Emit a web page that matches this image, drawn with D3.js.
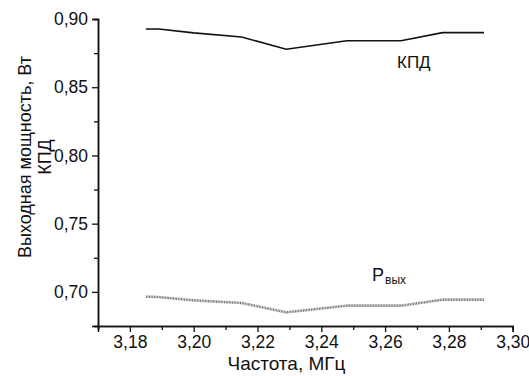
<!DOCTYPE html>
<html>
<head>
<meta charset="utf-8">
<script src="https://cdn.jsdelivr.net/npm/d3@7"></script>
<style>
  body { margin: 0; background: #fff; }
  text { font-family: "Liberation Sans", Arial, sans-serif; fill: #111; }
</style>
</head>
<body>
<div id="chart"></div>
<script>
// frequency, MHz
const freq = [3.185, 3.189, 3.2, 3.215, 3.229, 3.248, 3.265, 3.278, 3.291];
// efficiency (КПД)
const kpd = [0.8927, 0.8927, 0.8898, 0.8868, 0.8778, 0.8841, 0.8841, 0.8900, 0.8900];
// output power, W
const pout = [0.6965, 0.6962, 0.6938, 0.6919, 0.6850, 0.6899, 0.6899, 0.6943, 0.6943];

const xTicks = [3.18, 3.20, 3.22, 3.24, 3.26, 3.28, 3.30];
const yTicks = [0.70, 0.75, 0.80, 0.85, 0.90];

/* chart sizes */
const width = 529, height = 376;
const margin = {top: 19, right: 16, bottom: 50, left: 98};

const svg = d3.select("#chart")
  .append("svg")
  .attr("width", width)
  .attr("height", height);

/* scales */
const x = d3.scaleLinear().domain([3.17, 3.30]).range([margin.left, 512.7]);
const y = d3.scaleLinear().domain([0.675, 0.90]).range([326, margin.top]);

const fmt = d => d3.format(".2f")(d).replace(".", ",");

/* axes: major ticks with labels, minor ticks without */
svg.append("g")
  .attr("transform", "translate(0," + y(0.675) + ")")
  .call(d3.axisBottom(x).tickValues(xTicks).tickFormat(fmt).tickSize(6).tickPadding(4));
svg.append("g")
  .attr("transform", "translate(0," + y(0.675) + ")")
  .call(d3.axisBottom(x).tickValues(d3.range(3.17, 3.30, 0.02)).tickFormat("").tickSize(4));

svg.append("g")
  .attr("transform", "translate(" + x(3.17) + ",0)")
  .call(d3.axisLeft(y).tickValues(yTicks).tickFormat(fmt).tickSize(6).tickPadding(4));
svg.append("g")
  .attr("transform", "translate(" + x(3.17) + ",0)")
  .call(d3.axisLeft(y).tickValues([0.675, 0.725, 0.775, 0.825, 0.875]).tickFormat("").tickSize(4));

svg.selectAll(".domain").attr("stroke", "#111").attr("stroke-width", 1.5);
svg.selectAll(".tick line").attr("stroke", "#111").attr("stroke-width", 1.3);
svg.selectAll(".tick text").style("font-size", "17.5px").attr("fill", "#111");

/* lines */
const line = vals => d3.line()
  .x((d, i) => x(freq[i]))
  .y(d => y(d))(vals);

svg.append("path")
  .attr("d", line(kpd))
  .attr("fill", "none")
  .attr("stroke", "#111")
  .attr("stroke-width", 1.6);

svg.append("path")
  .attr("d", line(pout))
  .attr("fill", "none")
  .attr("stroke", "#777")
  .attr("stroke-width", 2.6)
  .attr("stroke-dasharray", "1,0.6");

/* curve labels */
svg.append("text")
  .attr("x", 397).attr("y", 68)
  .style("font-size", "17px")
  .text("КПД");

const pl = svg.append("text")
  .attr("x", 372).attr("y", 281)
  .style("font-size", "18px");
pl.append("tspan").text("P");
pl.append("tspan").attr("dy", 3).attr("dx", 1).style("font-size", "12px").text("вых");

/* axis titles */
svg.append("text")
  .attr("x", 286.5)
  .attr("y", 370)
  .attr("text-anchor", "middle")
  .style("font-size", "19px")
  .text("Частота, МГц");

const yt = svg.append("text")
  .attr("transform", "translate(31,157) rotate(-90)")
  .attr("text-anchor", "middle")
  .style("font-size", "18px");
yt.append("tspan").attr("x", 0).attr("dy", 0).text("Выходная мощность, Вт");
yt.append("tspan").attr("x", 0).attr("dy", 20).text("КПД");
</script>
</body>
</html>
